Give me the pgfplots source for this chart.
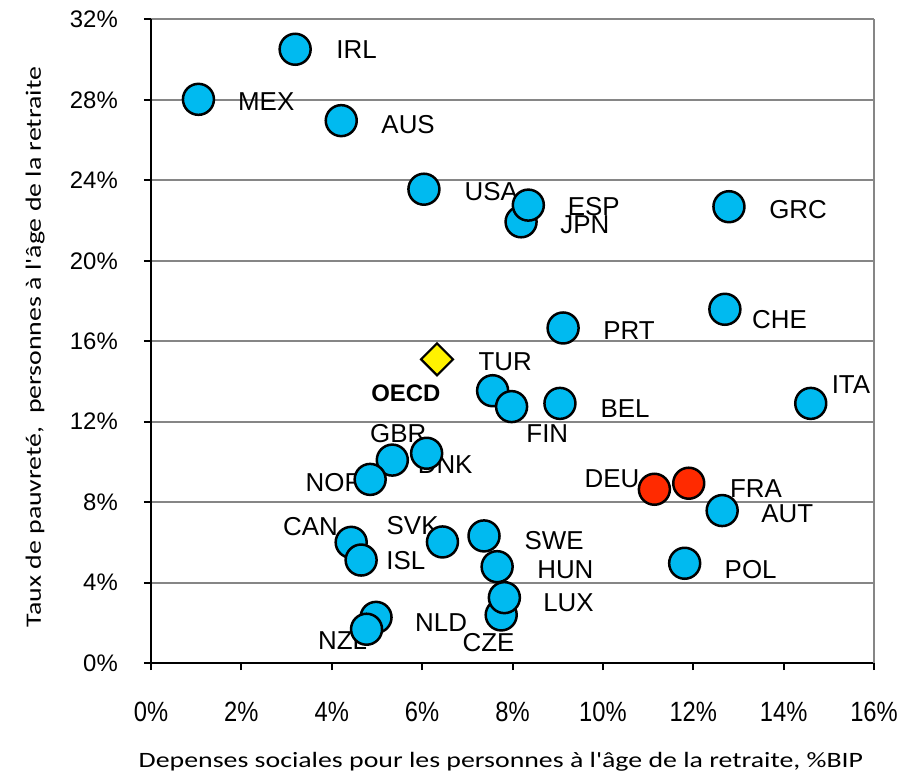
\documentclass[border=0pt]{standalone}
\usepackage{fontspec}
\setmainfont{Liberation Sans}
\newfontfamily\labfont[FakeStretch=1.27]{Carlito}
\newfontfamily\xtickfont[FakeStretch=0.85]{Liberation Sans}
\usepackage{pgfplots}
\usepackage{pgfplotstable}
\pgfplotsset{compat=1.18}
\definecolor{cyanfill}{HTML}{00BAF0}
\definecolor{redfill}{HTML}{FF2A00}
\definecolor{gridgray}{HTML}{868686}

\pgfplotstableread{
x y c
3.19 30.52 IRL
1.05 28.03 MEX
4.21 26.97 AUS
6.04 23.56 USA
8.19 21.94 JPN
8.35 22.77 ESP
12.79 22.69 GRC
12.70 17.59 CHE
9.12 16.66 PRT
14.60 12.91 ITA
7.56 13.54 TUR
7.98 12.75 FIN
9.05 12.91 BEL
6.10 10.43 DNK
5.34 10.09 GBR
4.85 9.13 NOR
12.64 7.58 AUT
11.81 4.96 POL
4.43 6.00 CAN
4.65 5.12 ISL
6.45 6.02 SVK
7.37 6.32 SWE
7.66 4.79 HUN
7.75 2.39 CZE
7.82 3.25 LUX
4.98 2.27 NLD
4.77 1.68 NZL
}\bluedata

\pgfplotstableread{
x y c
11.14 8.64 DEU
11.90 8.94 FRA
}\reddata

\pgfplotstableread{
x y c
6.33 15.10 OECD
}\oecddata

\pgfplotstableread{
x y t
4.55 30.50 IRL
2.55 27.93 MEX
5.69 26.79 AUS
7.53 23.44 USA
9.80 22.68 ESP
9.60 21.80 JPN
14.32 22.53 GRC
13.91 17.10 CHE
10.58 16.52 PRT
15.49 13.82 ITA
10.49 12.65 BEL
10.20 9.14 DEU
13.39 8.66 FRA
14.08 7.40 AUT
13.27 4.66 POL
7.84 14.97 TUR
8.77 11.40 FIN
5.47 11.42 GBR
6.51 9.85 DNK
4.06 8.98 NOR
3.53 6.78 CAN
5.79 6.82 SVK
5.64 5.10 ISL
8.92 6.08 SWE
9.17 4.63 HUN
9.24 3.02 LUX
6.42 2.01 NLD
7.47 1.02 CZE
4.24 1.12 NZL
}\labdata

\pgfplotstableread{
x y t
5.64 13.41 OECD
}\oecdlab

\begin{document}
\begin{tikzpicture}
\begin{axis}[
  name=ax,
  scale only axis,
  width=723bp, height=643.5bp,
  xmin=0, xmax=16, ymin=0, ymax=32,
  clip=false,
  axis x line*=bottom, axis y line*=left,
  axis line style={line width=2.5bp, black},
  xtick={0,2,...,16}, ytick={0,4,...,32},
  tick align=outside,
  major tick length=7bp,
  tick style={line width=2bp, black},
  ymajorgrids,
  grid style={line width=2bp, gridgray},
  extra x ticks={16},
  extra x tick labels={},
  extra x tick style={grid=major, major tick length=0pt, tick style={draw=none}},
  /pgf/number format/assume math mode=true,
  xticklabel={\pgfmathprintnumber{\tick}\%},
  yticklabel={\pgfmathprintnumber{\tick}\%},
  xticklabel style={font=\xtickfont\fontsize{28}{30}\selectfont, anchor=north, inner sep=0pt, yshift=-32bp},
  yticklabel style={font=\fontsize{24}{28}\selectfont, anchor=east, inner sep=0pt, xshift=-26bp},
  xlabel={Depenses sociales pour les personnes à l'âge de la retraite, \%BIP},
  ylabel={Taux de pauvreté,\ \ personnes à l'âge de la retraite},
  xlabel style={font=\labfont\fontsize{22}{26}\selectfont, at={(axis description cs:0.484,-0.154)}, anchor=center, inner sep=0pt},
  ylabel style={font=\labfont\fontsize{22}{26}\selectfont, at={(axis description cs:-0.1604,0.491)}, anchor=center, inner sep=0pt},
]
\addplot[only marks, mark=none, point meta=explicit symbolic,
  nodes near coords, nodes near coords style={anchor=center, inner sep=0pt, font=\fontsize{26}{30}\selectfont}]
  table[x=x, y=y, meta=t]{\labdata};
\addplot[only marks, mark=none, point meta=explicit symbolic,
  nodes near coords, nodes near coords style={anchor=center, inner sep=0pt, font=\bfseries\fontsize{24}{28}\selectfont}]
  table[x=x, y=y, meta=t]{\oecdlab};
\addplot[only marks, mark=*, mark size=15.5bp, mark options={fill=cyanfill, draw=black, line width=2.5bp}]
  table[x=x, y=y]{\bluedata};
\addplot[only marks, mark=*, mark size=15.5bp, mark options={fill=redfill, draw=black, line width=2.5bp}]
  table[x=x, y=y]{\reddata};
\addplot[only marks, mark=square*, mark size=11.3bp, mark options={rotate=45, fill=yellow, draw=black, line width=2.2bp}]
  table[x=x, y=y]{\oecddata};
\end{axis}
\path ([xshift=-151bp, yshift=-113bp]ax.south west) rectangle ([xshift=40bp, yshift=19.5bp]ax.north east);
\end{tikzpicture}
\end{document}
